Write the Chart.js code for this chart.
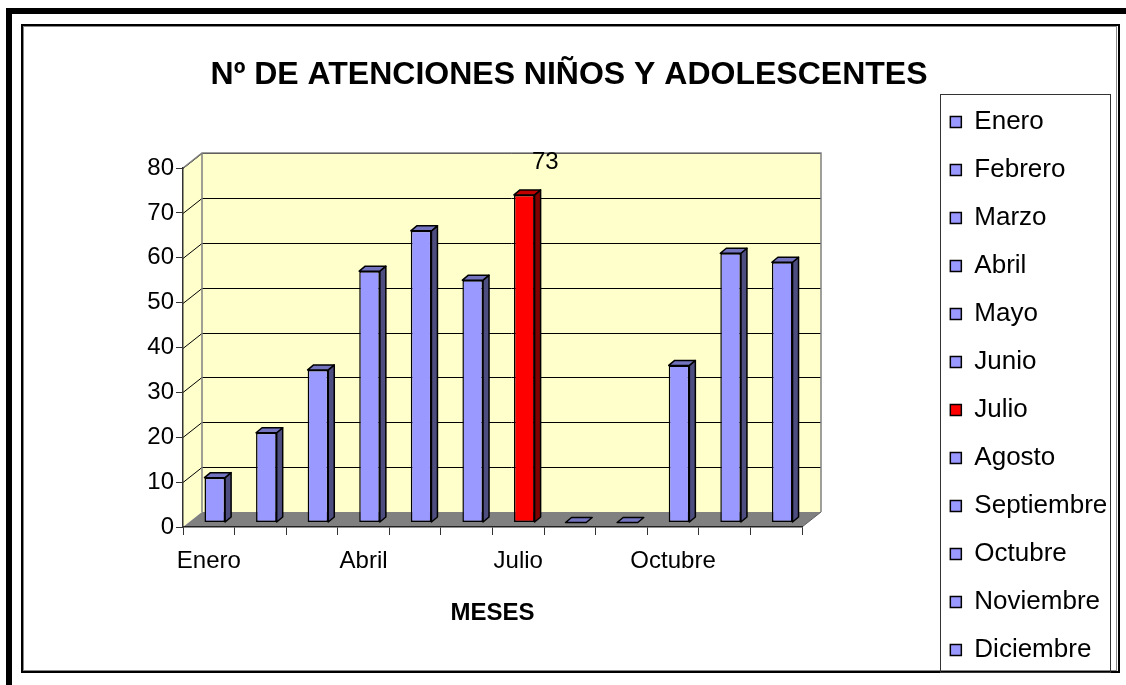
<!DOCTYPE html>
<html lang="es">
<head>
    <meta charset="UTF-8">
    <title>Nº de atenciones niños y adolescentes</title>
    <script src="https://cdn.jsdelivr.net/npm/chart.js"></script>
    <style>
        html, body { margin: 0; padding: 0; background: #fff; }
        #wrap { width: 1126px; height: 685px; position: relative; }
    </style>
</head>
<body>
    <div id="wrap"><canvas id="atenciones"></canvas></div>

    <script>
        // datos
        const meses = ['Enero', 'Febrero', 'Marzo', 'Abril', 'Mayo', 'Junio', 'Julio',
            'Agosto', 'Septiembre', 'Octubre', 'Noviembre', 'Diciembre'];
        const atenciones = [10, 20, 34, 56, 65, 54, 73, 0, 0, 35, 60, 58];
        const xTickLabels = ['Enero', '', '', 'Abril', '', '', 'Julio', '', '', 'Octubre', '', ''];
        const yTicks = [0, 10, 20, 30, 40, 50, 60, 70, 80];
        const mesDestacado = 'Julio'; // barra roja con etiqueta

        const FONT = '"Liberation Sans", Arial, sans-serif';
        const DX = 19, DY = 15;          // profundidad de paredes
        const BDX = 6, BDY = 5;          // profundidad de barras
        const SHIFT_X = 6, SHIFT_Y = -4.5; // barras hacia el fondo

        const frente = meses.map(m => m === mesDestacado ? '#ff0000' : '#9999ff');
        const lado = meses.map(m => m === mesDestacado ? '#800000' : '#4d4d80');
        const arriba = meses.map(m => m === mesDestacado ? '#c00000' : '#7373bf');

        const efecto3d = {
            id: 'efecto3d',
            beforeDraw(chart) {
                const { ctx, chartArea: a } = chart;
                const y = chart.scales.y;
                ctx.save();
                ctx.fillStyle = '#fff';
                ctx.fillRect(0, 0, chart.width, chart.height);

                // marcos
                ctx.strokeStyle = '#000';
                ctx.lineWidth = 6;
                ctx.strokeRect(9, 11, 1140, 700);
                ctx.lineWidth = 1;
                ctx.strokeStyle = '#888';
                ctx.strokeRect(23.5, 26.5, 1093, 644);
                ctx.strokeStyle = '#000';
                ctx.lineWidth = 2;
                ctx.strokeRect(22, 25, 1097, 647);

                // caja de leyenda
                const lg = chart.legend;
                ctx.lineWidth = 1;
                ctx.strokeStyle = '#333';
                ctx.strokeRect(Math.round(lg.left + 12) + 0.5, 94.5, Math.round(lg.right - lg.left - 10), 578);

                // pared lateral
                ctx.fillStyle = '#ffffcc';
                ctx.beginPath();
                ctx.moveTo(a.left, a.top);
                ctx.lineTo(a.left + DX, a.top - DY);
                ctx.lineTo(a.left + DX, a.bottom - DY);
                ctx.lineTo(a.left, a.bottom);
                ctx.closePath();
                ctx.fill();
                // pared de fondo
                ctx.fillRect(a.left + DX, a.top - DY, a.right - a.left, a.bottom - a.top);

                // líneas de división
                ctx.strokeStyle = '#000';
                ctx.lineWidth = 1;
                yTicks.forEach(v => {
                    if (v === 0) return;
                    const py = Math.round(y.getPixelForValue(v)) + 0.5;
                    ctx.beginPath();
                    ctx.moveTo(a.left, py);
                    ctx.lineTo(a.left + DX, py - DY);
                    ctx.lineTo(a.right + DX, py - DY);
                    ctx.stroke();
                });

                // contornos de paredes
                ctx.strokeStyle = '#808080';
                ctx.lineWidth = 1.5;
                ctx.beginPath();
                ctx.moveTo(a.left, a.top);
                ctx.lineTo(a.left + DX, a.top - DY);
                ctx.lineTo(a.right + DX, a.top - DY);
                ctx.lineTo(a.right + DX, a.bottom - DY);
                ctx.moveTo(a.left + DX, a.top - DY);
                ctx.lineTo(a.left + DX, a.bottom - DY);
                ctx.stroke();

                // piso
                ctx.fillStyle = '#808080';
                ctx.beginPath();
                ctx.moveTo(a.left, a.bottom);
                ctx.lineTo(a.right, a.bottom);
                ctx.lineTo(a.right + DX, a.bottom - DY);
                ctx.lineTo(a.left + DX, a.bottom - DY);
                ctx.closePath();
                ctx.fill();
                ctx.strokeStyle = '#606060';
                ctx.lineWidth = 1;
                ctx.beginPath();
                ctx.moveTo(a.right, a.bottom);
                ctx.lineTo(a.right + DX, a.bottom - DY);
                ctx.stroke();
                ctx.restore();
            },
            beforeDatasetsDraw(chart) {
                chart.ctx.save();
                chart.ctx.translate(SHIFT_X, SHIFT_Y);
            },
            afterDatasetsDraw(chart) {
                const ctx = chart.ctx;
                const bars = chart.getDatasetMeta(0).data;
                ctx.lineWidth = 1.5;
                ctx.strokeStyle = '#000';
                ctx.lineJoin = 'round';
                bars.forEach((bar, i) => {
                    const p = bar.getProps(['x', 'y', 'base', 'width'], true);
                    const x1 = p.x - p.width / 2, x2 = p.x + p.width / 2;
                    // cara lateral
                    if (p.base - p.y > 0.5) {
                        ctx.fillStyle = lado[i];
                        ctx.beginPath();
                        ctx.moveTo(x2, p.y);
                        ctx.lineTo(x2 + BDX, p.y - BDY);
                        ctx.lineTo(x2 + BDX, p.base - BDY);
                        ctx.lineTo(x2, p.base);
                        ctx.closePath();
                        ctx.fill();
                        ctx.stroke();
                    }
                    // cara superior
                    ctx.fillStyle = arriba[i];
                    ctx.beginPath();
                    ctx.moveTo(x1, p.y);
                    ctx.lineTo(x2, p.y);
                    ctx.lineTo(x2 + BDX, p.y - BDY);
                    ctx.lineTo(x1 + BDX, p.y - BDY);
                    ctx.closePath();
                    ctx.fill();
                    ctx.stroke();

                    if (meses[i] === mesDestacado) {
                        ctx.fillStyle = '#000';
                        ctx.font = '24px ' + FONT;
                        ctx.textAlign = 'center';
                        ctx.textBaseline = 'middle';
                        ctx.fillText(String(atenciones[i]), p.x + 21, p.y - 33);
                    }
                });
                ctx.restore();
            }
        };

        const ctx = document.getElementById('atenciones').getContext('2d');
        new Chart(ctx, {
            type: 'bar',
            data: {
                labels: meses,
                datasets: [{
                    data: atenciones,
                    backgroundColor: frente,
                    borderColor: '#000',
                    borderWidth: 1.5,
                    borderSkipped: false,
                    categoryPercentage: 1,
                    barPercentage: 0.4,
                    clip: false
                }]
            },
            options: {
                responsive: true,
                maintainAspectRatio: false,
                animation: false,
                layout: { padding: { left: 30, top: 20, right: 18, bottom: 0 } },
                plugins: {
                    tooltip: { enabled: false },
                    title: {
                        display: true,
                        text: 'Nº DE ATENCIONES NIÑOS Y ADOLESCENTES',
                        color: '#000',
                        font: { family: FONT, size: 32, weight: 'bold' },
                        padding: { top: 35.8, bottom: 73.8 }
                    },
                    legend: {
                        position: 'right',
                        align: 'end',
                        labels: {
                            color: '#000',
                            font: { family: FONT, size: 26 },
                            boxWidth: 11,
                            boxHeight: 11,
                            padding: 22,
                            generateLabels: () => meses.map((m, i) => ({
                                text: m,
                                fillStyle: frente[i],
                                strokeStyle: '#000',
                                lineWidth: 1.5,
                                hidden: false,
                                index: i
                            }))
                        },
                        onClick: () => {}
                    }
                },
                scales: {
                    x: {
                        grid: { drawOnChartArea: false, drawTicks: true, tickLength: 8, color: '#333', offset: true },
                        border: { display: true, color: '#222', width: 1.5 },
                        ticks: {
                            color: '#000',
                            font: { family: FONT, size: 24 },
                            padding: 12,
                            autoSkip: false,
                            maxRotation: 0,
                            callback: (v, i) => xTickLabels[i]
                        },
                        title: {
                            display: true,
                            text: 'MESES',
                            color: '#000',
                            font: { family: FONT, size: 24, weight: 'bold' },
                            padding: { top: 0, bottom: 57.6 }
                        },
                        afterFit: s => { s.height = 158; }
                    },
                    y: {
                        min: 0,
                        max: 80,
                        grid: { drawOnChartArea: false, drawTicks: true, tickLength: 7, color: '#333' },
                        border: { display: true, color: '#333', width: 1.5 },
                        ticks: {
                            stepSize: 10,
                            color: '#000',
                            font: { family: FONT, size: 24 },
                            padding: 2
                        },
                        afterFit: s => { s.width = 153; }
                    },
                    espacio: {
                        position: 'right',
                        display: true,
                        grid: { display: false },
                        border: { display: false },
                        ticks: { display: false },
                        afterFit: s => {
                            const lg = s.chart.legend;
                            const lw = lg && lg.width ? lg.width : 179;
                            s.width = Math.max(0, 1126 - 18 - lw - 802);
                        }
                    }
                }
            },
            plugins: [efecto3d]
        });
    </script>
</body>
</html>
